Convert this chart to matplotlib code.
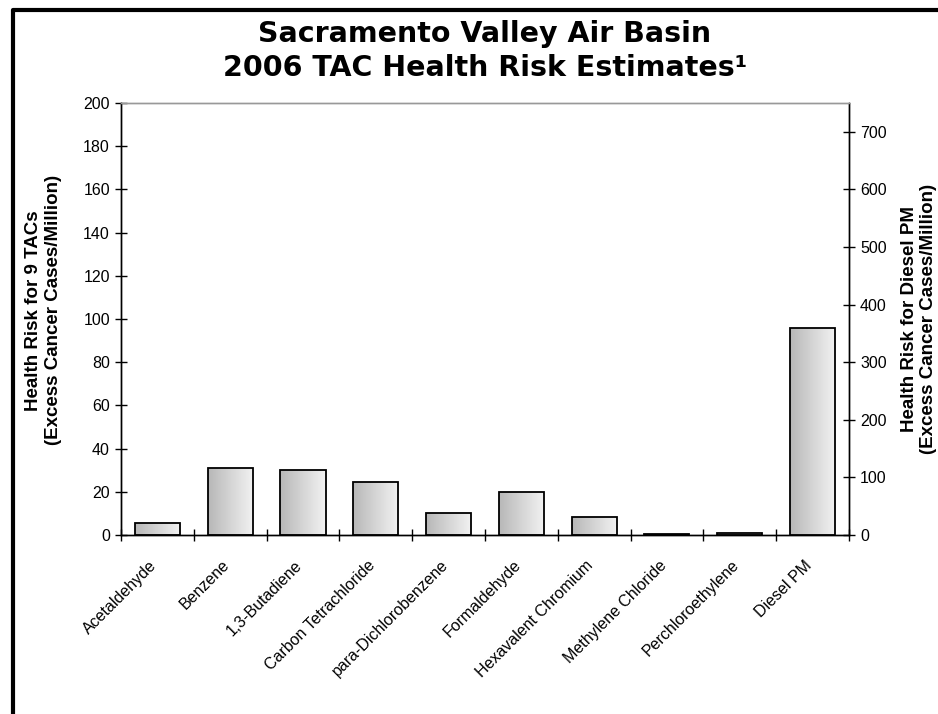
import numpy as np
import matplotlib
matplotlib.use("Agg")
import matplotlib.pyplot as plt
from matplotlib.lines import Line2D

plt.rcParams['font.family'] = ['Liberation Sans', 'DejaVu Sans']

tacs = ['Acetaldehyde', 'Benzene', '1,3-Butadiene', 'Carbon Tetrachloride',
        'para-Dichlorobenzene', 'Formaldehyde', 'Hexavalent Chromium',
        'Methylene Chloride', 'Perchloroethylene']
tac_risk = [5.5, 31.0, 30.0, 24.5, 10.0, 19.8, 8.5, 0.3, 0.8]
diesel_label = 'Diesel PM'
diesel_risk = 360
left_ticks = list(range(0, 201, 20))
right_ticks = list(range(0, 701, 100))

categories = tacs + [diesel_label]
x = np.arange(len(categories))

fig = plt.figure(figsize=(9.38, 7.14), dpi=100)
ax = fig.add_axes([0.129, 0.2507, 0.776, 0.605])
ax2 = ax.twinx()

grad = np.linspace(0.72, 0.95, 64).reshape(1, -1)


def gradient_bars(axis, xs, vals):
    bars = axis.bar(xs, vals, width=0.62, facecolor='none', edgecolor='black',
                    linewidth=1.3, zorder=3)
    for b in bars:
        x0, y0 = b.get_x(), b.get_y()
        w, h = b.get_width(), b.get_height()
        im = axis.imshow(grad, cmap='gray', vmin=0, vmax=1, aspect='auto',
                         extent=[x0, x0 + w, y0, y0 + h], zorder=2,
                         interpolation='bicubic')
        im.set_clip_path(b)
    return bars


gradient_bars(ax, x[:-1], tac_risk)
gradient_bars(ax2, [x[-1]], [diesel_risk])

ax.set_ylim(0, 200)
ax2.set_ylim(0, 750)
ax.set_yticks(left_ticks)
ax2.set_yticks(right_ticks)

# tick marks on category boundaries, names rotated under each bar
ax.set_xticks(np.arange(len(categories) + 1) - 0.5)
ax.set_xticklabels([])
for xi, name in zip(x, categories):
    ax.annotate(name, xy=(xi, 0), xycoords=ax.get_xaxis_transform(),
                xytext=(-2.2, -20), textcoords='offset points',
                rotation=45, rotation_mode='anchor', ha='right', va='center',
                fontsize=11.5, annotation_clip=False)
ax.tick_params(axis='x', direction='inout', length=9, width=1)
ax.tick_params(axis='y', direction='inout', length=9, width=1, labelsize=11.5)
ax2.tick_params(axis='y', direction='inout', length=9, width=1, labelsize=11.5)
ax.set_xlim(-0.5, len(categories) - 0.5)

for a in (ax, ax2):
    a.spines['top'].set_color('#999999')
    a.spines['top'].set_linewidth(1)
    a.spines['left'].set_linewidth(1)
    a.spines['right'].set_linewidth(1)
    a.spines['bottom'].set_linewidth(1)
    a.set_facecolor('none')

ax.set_ylabel('Health Risk for 9 TACs\n(Excess Cancer Cases/Million)',
              fontsize=13.5, fontweight='bold')
ax.yaxis.set_label_coords(-0.081, 0.52)
ax2.set_ylabel('Health Risk for Diesel PM\n(Excess Cancer Cases/Million)',
               fontsize=13.5, fontweight='bold', rotation=90)
ax2.yaxis.set_label_coords(1.0714, 0.5)

fig.text(0.517, 0.953, 'Sacramento Valley Air Basin', ha='center', va='center',
         fontsize=20.5, fontweight='bold', family=['DejaVu Sans'])
fig.text(0.517, 0.905, '2006 TAC Health Risk Estimates\u00b9', ha='center',
         va='center', fontsize=20.5, fontweight='bold', family=['DejaVu Sans'])

# frame around the figure (only left and top visible)
fig.add_artist(Line2D([0.014, 0.014, 1.01], [-0.01, 0.986, 0.986],
                      transform=fig.transFigure, color='black', linewidth=3))

fig.savefig('out.png', dpi=100)
